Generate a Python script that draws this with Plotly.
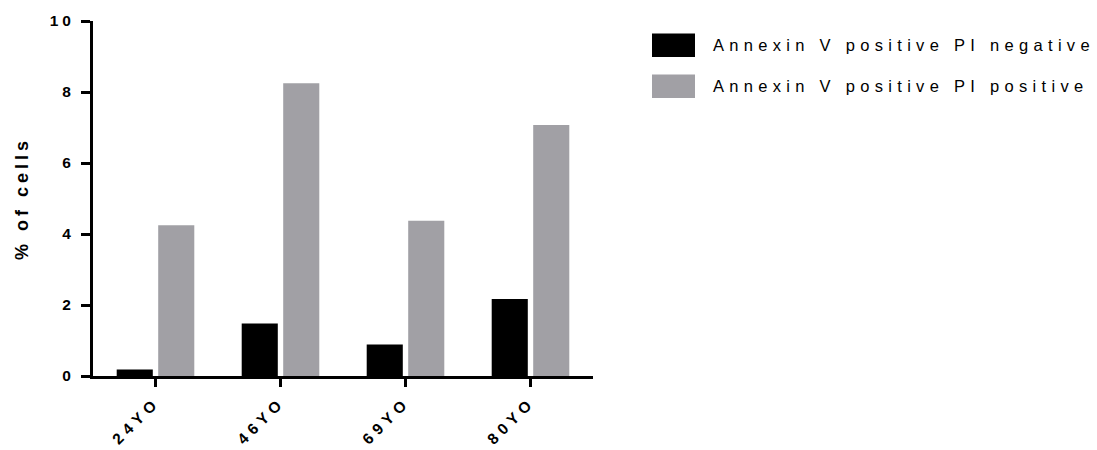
import plotly.graph_objects as go

categories = ["24YO", "46YO", "69YO", "80YO"]
series_names = ["Annexin V positive PI negative", "Annexin V positive PI positive"]
neg_values = [0.18, 1.48, 0.89, 2.17]
pos_values = [4.25, 8.25, 4.37, 7.07]
series_colors = ["#000000", "#a1a0a5"]
y_ticks = [0, 2, 4, 6, 8, 10]
y_title = "% of cells"

FONT = "Liberation Sans, Arial, sans-serif"


def spaced(text, px):
    return f'<span style="letter-spacing:{px}px">{text}</span>'


fig = go.Figure()
for name, vals, col in zip(series_names, [neg_values, pos_values], series_colors):
    fig.add_trace(go.Bar(x=categories, y=vals, name=name, marker=dict(color=col, line=dict(width=0)),
                         showlegend=False))

fig.update_layout(
    width=1097, height=450,
    margin=dict(l=93, r=504, t=21, b=74),
    paper_bgcolor="white", plot_bgcolor="white",
    barmode="group", bargap=0.336, bargroupgap=0.13,
    font=dict(family=FONT, color="black"),
)
fig.update_xaxes(
    range=[-0.5, 3.5], showgrid=False, zeroline=False, automargin=False,
    showline=True, linecolor="black", linewidth=3,
    ticks="outside", ticklen=8, tickwidth=3, tickcolor="black",
    tickvals=categories,
    ticktext=[spaced(c, 5) for c in categories],
    tickangle=-45, tickfont=dict(size=15.5, weight="bold", family=FONT),
    ticklabelstandoff=0,
)
fig.update_yaxes(
    range=[0, 10], showgrid=False, zeroline=False, automargin=False,
    showline=True, linecolor="black", linewidth=3,
    ticks="outside", ticklen=9, tickwidth=3, tickcolor="black",
    tickvals=y_ticks, ticktext=[spaced(str(t), 4) for t in y_ticks],
    tickfont=dict(size=15.5, weight="bold", family=FONT),
    ticklabelstandoff=3,
    title=dict(text=spaced(y_title, 4), font=dict(size=18, weight="bold", family=FONT), standoff=17),
)

# legend drawn as swatches + labels
legend_rows = [(376 - 45) / 355, (376 - 86) / 355]
for name, col, yy in zip(series_names, series_colors, legend_rows):
    fig.add_shape(type="rect", xref="paper", yref="paper",
                  x0=(652 - 93) / 500, x1=(695 - 93) / 500,
                  y0=yy - 12 / 355, y1=yy + 11.5 / 355,
                  fillcolor=col, line=dict(width=0))
    fig.add_annotation(xref="paper", yref="paper", x=(711 - 93) / 500, y=yy,
                       xanchor="left", yanchor="middle", showarrow=False,
                       text=spaced(name, 5.3), font=dict(size=16.5, family=FONT, color="black"))

fig.write_html("out.html", config={"displayModeBar": False},
               post_script="document.body.style.margin='0';document.body.style.overflow='hidden';")
